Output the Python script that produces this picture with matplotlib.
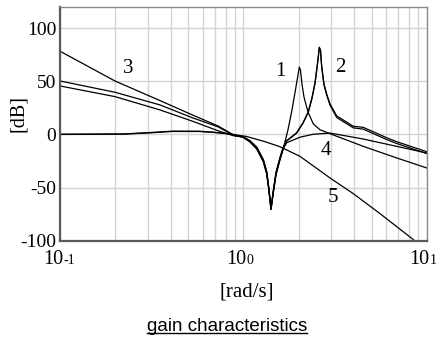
import matplotlib
matplotlib.use("Agg")
import matplotlib.pyplot as plt
from matplotlib.transforms import blended_transform_factory, ScaledTranslation
from matplotlib.lines import Line2D
from matplotlib.ticker import LogLocator, NullFormatter

plt.rcParams['axes.unicode_minus'] = False

# values: frequency [rad/s] and gain [dB]
# low frequency part of curves 1-3 (sloped lines)
w_low = [0.1, 0.199, 0.350, 0.532, 0.726, 0.880]
db1_low = [45.6, 35.6, 23.1, 12.2, 3.5, -1.2]
db2_low = [50.3, 39.7, 27.8, 15.4, 7.2, -0.7]
db3_low = [78.2, 50.3, 31.9, 18.0, 8.0, -0.3]

# low frequency part of curves 4 and 5 (near 0 dB)
w_flat = [0.1, 0.223, 0.309, 0.407, 0.577, 0.698, 0.845]
db4_flat = [0.0, 0.3, 1.5, 2.8, 2.8, 1.8, 0.3]
db5_flat = [0.2, 0.5, 1.8, 3.1, 3.0, 2.0, 0.5]

# anti-resonance notch (curves 1 and 4 / curves 2 and 3)
w_notch = [0.997, 1.085, 1.181, 1.283, 1.339, 1.378, 1.413, 1.455, 1.505, 1.582, 1.649]
db_notch_a = [-2.2, -6.0, -12.0, -23.7, -35.0, -51.8, -70.6, -54.6, -37.8, -23.7, -13.4]
db_notch_b = [-2.8, -7.0, -13.5, -25.5, -37.0, -53.0, -70.0, -53.0, -36.0, -22.0, -12.0]

# high frequency parts
w1_high = [1.750, 1.840, 1.922, 1.984, 2.017, 2.047, 2.086, 2.139, 2.249, 2.404, 2.616, 2.967, 4.508, 6.860, 10.0]
db1_high = [4.4, 23.1, 41.9, 55.9, 63.4, 60.6, 47.5, 35.3, 21.3, 10.0, 4.4, 0.7, -11.2, -22.1, -31.5]

w2_high = [1.721, 1.951, 2.113, 2.258, 2.365, 2.457, 2.541, 2.594, 2.633, 2.672, 2.750, 2.845, 2.967, 3.227, 3.975, 4.508, 6.048, 6.860, 10.0]
db2_high = [-5.9, 1.6, 11.0, 21.3, 34.4, 48.5, 68.1, 82.2, 79.4, 64.4, 47.5, 38.1, 28.8, 17.5, 7.7, 6.7, -3.1, -6.8, -16.2]
db3_high = [-6.2, 1.2, 10.5, 20.8, 33.8, 48.0, 67.5, 81.5, 78.9, 63.8, 46.8, 37.2, 27.6, 16.0, 6.2, 5.0, -4.8, -8.5, -18.0]

w4_high = [1.721, 2.034, 2.404, 2.967, 4.508, 6.860, 10.0]
db4_high = [-7.8, -2.6, 0.2, 1.3, -4.3, -11.2, -17.4]

w5_high = [1.04, 1.31, 1.58, 2.03, 2.97, 3.96, 5.56, 8.42, 10.0]
db5_high = [-1.9, -6.8, -11.5, -20.5, -41.0, -55.5, -74.5, -98.7, -112.0]

# curve numbers
label_text = ['1', '2', '3', '4', '5']
label_w = [1.582, 3.364, 0.2356, 2.82, 3.08]
label_db = [59.0, 63.0, 62.2, -15.1, -58.9]

ytick_vals = [-100, -50, 0, 50, 100]
ytick_text = ['-100', '-50', '0', '50', '100']
dec_w = [0.1, 1.0, 10.0]
dec_exp = ['-1', '0', '1']

serif = 'Liberation Serif'

fig = plt.figure(figsize=(4.4, 3.4), dpi=100)
ax = fig.add_axes([0.137, 0.2921, 0.8327, 0.6874])

curves = [
    (w_low + w_notch + w1_high, db1_low + db_notch_a + db1_high),
    (w_low + w_notch + w2_high, db2_low + db_notch_b + db2_high),
    (w_low + w_notch + w2_high, db3_low + db_notch_b + db3_high),
    (w_flat + w_notch + w4_high, db4_flat + db_notch_a + db4_high),
    (w_flat + w5_high, db5_flat + db5_high),
]
for w, db in curves:
    ax.plot(w, db, color='black', lw=0.9)

ax.set_xscale('log')
ax.set_xlim(0.1, 10)
ax.set_ylim(-100, 120)

ax.xaxis.set_major_locator(LogLocator(base=10, numticks=5))
ax.xaxis.set_minor_locator(LogLocator(base=10, subs=range(2, 10), numticks=20))
ax.xaxis.set_major_formatter(NullFormatter())
ax.xaxis.set_minor_formatter(NullFormatter())
ax.set_yticks(ytick_vals)
ax.set_yticklabels(ytick_text, fontsize=14, family=serif)
ax.tick_params(which='both', length=0)
ax.tick_params(axis='y', pad=3)
ax.grid(True, which='both', axis='x', color='#d4d4d4', lw=1)
ax.grid(True, which='major', axis='y', color='#d4d4d4', lw=1)
ax.set_axisbelow(True)

for side in ['left', 'bottom']:
    ax.spines[side].set_color('#5a5a5a')
    ax.spines[side].set_linewidth(1.6)
for side in ['top', 'right']:
    ax.spines[side].set_color('#8a8a8a')
    ax.spines[side].set_linewidth(1.0)

# decade labels drawn as 10 plus a small exponent
def shift(dx, dy):
    return ScaledTranslation(dx / 100, dy / 100, fig.dpi_scale_trans)

trans = blended_transform_factory(ax.transData, ax.transAxes)
for w, e in zip(dec_w, dec_exp):
    ax.text(w, 0, '10', transform=trans + shift(3, -9), ha='right', va='top',
            fontsize=14.5, family=serif, clip_on=False)
    ax.text(w, 0, e, transform=trans + shift(3, -13), ha='left', va='top',
            fontsize=10, family=serif, clip_on=False)

for t, w, db in zip(label_text, label_w, label_db):
    ax.text(w, db, t, ha='center', va='center', fontsize=15, family=serif)

ax.set_ylabel('[dB]', fontsize=14.5, family=serif)
ax.yaxis.set_label_coords(-0.088, 0.546)

fig.text(0.560, 0.140, '[rad/s]', ha='center', va='center', fontsize=15, family=serif)
title = fig.text(0.516, 0.041, 'gain characteristics', ha='center', va='center',
                 fontsize=13.5, family='Liberation Sans')

# underline the caption
fig.canvas.draw()
bb = title.get_window_extent().transformed(fig.transFigure.inverted())
fig.add_artist(Line2D([bb.x0, bb.x1], [bb.y0 + 0.006, bb.y0 + 0.006],
                      transform=fig.transFigure, color='black', lw=1))

fig.savefig('out.png', dpi=100)
